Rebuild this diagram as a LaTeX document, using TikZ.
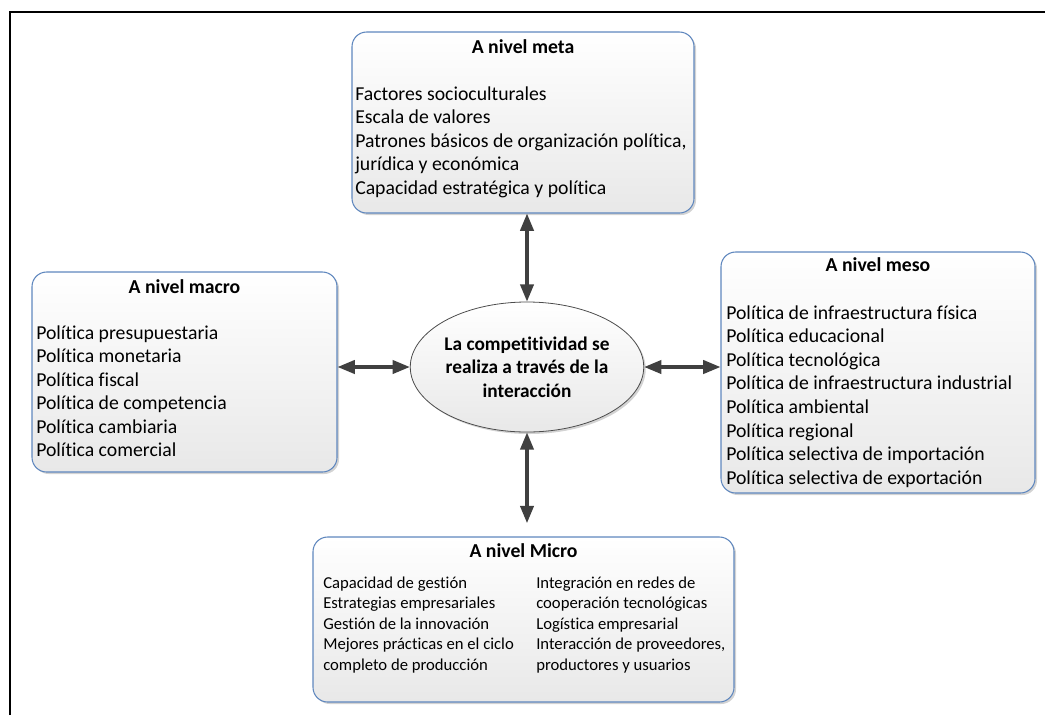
\documentclass[tikz,border=0pt]{standalone}
\usepackage{fontspec}
\setmainfont[Ligatures={NoCommon},RawFeature={-liga;-clig}]{Carlito}
\usetikzlibrary{arrows.meta,shapes.geometric,shadows,fit}
\definecolor{bordeazul}{RGB}{95,135,190}
\definecolor{flechagris}{RGB}{64,64,64}
\definecolor{fondogris}{RGB}{232,232,232}
\begin{document}
\begin{tikzpicture}[x=0.75pt,y=-0.75pt,
  caja/.style={draw=bordeazul,line width=0.8pt,rounded corners=11pt,inner sep=0pt,
    top color=white,bottom color=fondogris,
    drop shadow={opacity=0.35,shadow xshift=1.5pt,shadow yshift=-1.5pt}},
  centro/.style={ellipse,draw=gray!60!black,line width=0.6pt,inner sep=0pt,
    top color=white,bottom color=fondogris,
    drop shadow={opacity=0.35,shadow xshift=1.5pt,shadow yshift=-1.5pt},
    minimum width=166.5pt,minimum height=97.5pt,align=center,
    font=\bfseries\fontsize{14.5}{17.6}\selectfont},
  titulo/.style={font=\bfseries\fontsize{14.8}{17.6}\selectfont,anchor=base,inner sep=0pt},
  item/.style={font=\fontsize{14.8}{17.6}\selectfont,anchor=base west,inner sep=0pt},
  itemchico/.style={font=\fontsize{12.5}{15}\selectfont,anchor=base west,inner sep=0pt},
  flecha/.style={{Triangle[length=13pt,width=10pt]}-{Triangle[length=13pt,width=10pt]},
    line width=2.4pt,draw=flechagris}]
\useasboundingbox (0,0) rectangle (1045,715);
%marco
\draw[line width=1.6pt] (10,715) -- (10,12) -- (1045,12);

%cajas
\node[caja,fit={(352,32) (694,213)}] (meta) {};
\node[caja,fit={(32,272) (337,472)}] (macro) {};
\node[caja,fit={(721,252) (1035,493)}] (meso) {};
\node[caja,fit={(313,537) (734,702)}] (micro) {};

%A nivel meta
\node[titulo] (meta-t) at (meta.center |- 0,53) {A nivel meta};
\foreach \txt [count=\i] in {Factores socioculturales,Escala de valores,
    {Patrones básicos de organización política,},jurídica y económica,
    Capacidad estratégica y política}
  \node[item] (meta-\i) at (355,{100+23.5*(\i-1)}) {\txt};

%A nivel macro
\node[titulo] (macro-t) at (macro.center |- 0,293) {A nivel macro};
\foreach \txt [count=\i] in {Política presupuestaria,Política monetaria,Política fiscal,
    Política de competencia,Política cambiaria,Política comercial}
  \node[item] (macro-\i) at (36,{339+23.5*(\i-1)}) {\txt};

%A nivel meso
\node[titulo] (meso-t) at (meso.center |- 0,271) {A nivel meso};
\foreach \txt [count=\i] in {Política de infraestructura física,Política educacional,
    Política tecnológica,Política de infraestructura industrial,Política ambiental,
    Política regional,Política selectiva de importación,Política selectiva de exportación}
  \node[item] (meso-\i) at (726,{319+23.6*(\i-1)}) {\txt};

%A nivel Micro
\node[titulo] (micro-t) at (micro.center |- 0,557) {A nivel Micro};
\foreach \txt [count=\i] in {Capacidad de gestión,Estrategias empresariales,
    Gestión de la innovación,Mejores prácticas en el ciclo,completo de producción}
  \node[itemchico] (microa-\i) at (323,{588+20.5*(\i-1)}) {\txt};
\foreach \txt [count=\i] in {Integración en redes de,cooperación tecnológicas,
    Logística empresarial,{Interacción de proveedores,},productores y usuarios}
  \node[itemchico] (microb-\i) at (536,{588+20.5*(\i-1)}) {\txt};

%centro
\node[centro] (centro) at (527,367) {La competitividad se\\realiza a través de la\\interacción};

%flechas
\draw[flecha] (meta.south -| centro.north) -- (centro.north);
\draw[flecha,shorten >=10pt] (centro.south) -- (micro.north -| centro.south);
\draw[flecha] (macro.east |- centro.west) -- (centro.west);
\draw[flecha] (centro.east) -- (meso.west |- centro.east);
\end{tikzpicture}
\end{document}
